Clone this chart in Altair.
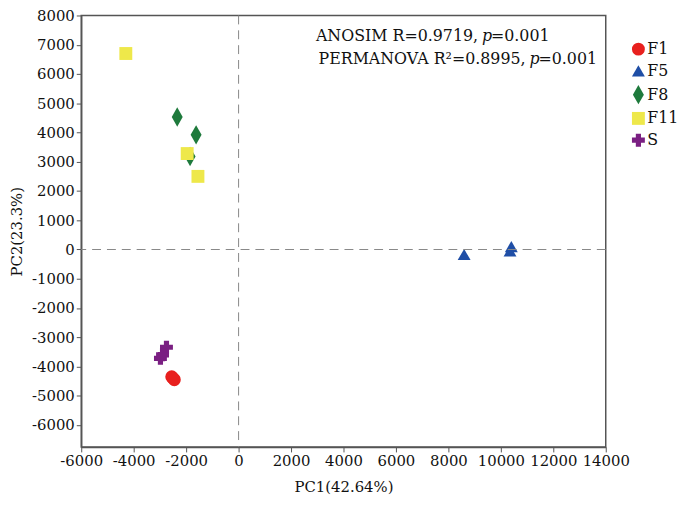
import altair as alt
import pandas as pd

groups = ["F1", "F1", "F1", "F5", "F5", "F5", "F8", "F8", "F8", "F11", "F11", "F11", "S", "S", "S"]
pc1 = [-2550, -2450, -2500, 8600, 10400, 10350, -2340, -1620, -1850, -4300, -1960, -1550, -2750, -2980, -2900]
pc2 = [-4350, -4450, -4400, -170, 100, -50, 4530, 3920, 3180, 6700, 3280, 2500, -3340, -3720, -3600]

order = ["F1", "F5", "F8", "F11", "S"]
colors = ["#e8201e", "#1f4ea6", "#1e7a3c", "#eee84a", "#7a1f82"]
shapes = ["circle", "triangle-up", "M0,-1.5L0.85,0L0,1.5L-0.85,0Z", "square", "cross"]

x_ticks = list(range(-6000, 14001, 2000))
y_ticks = list(range(-6000, 8001, 1000))

df = pd.DataFrame({"group": groups, "pc1": pc1, "pc2": pc2})

FONT = "DejaVu Serif"
xscale = alt.Scale(domain=[-6000, 14000], nice=False, zero=False)
yscale = alt.Scale(domain=[-6750, 8000], nice=False, zero=False)

axis_common = dict(grid=False, domainColor="#555", domainWidth=1.5,
                   tickColor="#555", tickSize=5, labelFont=FONT, labelFontSize=15,
                   labelColor="#111", titleFont=FONT, titleFontSize=15, titleFontWeight="normal",
                   titleColor="#111", labelOverlap=False, labelFlush=False,
                   labelExpr="datum.value + ''", labelPadding=2)
xaxis = alt.Axis(values=x_ticks, titlePadding=11, **axis_common)
yaxis = alt.Axis(values=y_ticks, titlePadding=7, **axis_common)

points = alt.Chart(df).mark_point(filled=True, size=170, opacity=1).encode(
    x=alt.X("pc1:Q", scale=xscale, title="PC1(42.64%)", axis=xaxis),
    y=alt.Y("pc2:Q", scale=yscale, title="PC2(23.3%)", axis=yaxis),
    color=alt.Color("group:N", scale=alt.Scale(domain=order, range=colors),
                    legend=alt.Legend(title=None, orient="none", legendX=555, legendY=26,
                                      labelFont=FONT, labelFontSize=16, labelColor="#111",
                                      symbolSize=170, rowPadding=6, labelOffset=1,
                                      symbolStrokeWidth=0, symbolOpacity=1)),
    shape=alt.Shape("group:N", scale=alt.Scale(domain=order, range=shapes), legend=None)
)

zx = pd.DataFrame({"v": [0]})
vrule = alt.Chart(zx).mark_rule(color="#888", strokeDash=[9, 6], strokeWidth=1).encode(
    x=alt.X("v:Q", scale=xscale, title="PC1(42.64%)", axis=xaxis))
hrule = alt.Chart(zx).mark_rule(color="#888", strokeDash=[9, 6], strokeWidth=1).encode(
    y=alt.Y("v:Q", scale=yscale, title="PC2(23.3%)", axis=yaxis))

ann_rows = [
    ("ANOSIM R=0.9719,", 401, 21, "normal", "right"),
    ("p", 405, 21, "italic", "left"),
    ("=0.001", 414, 21, "normal", "left"),
    ("PERMANOVA R²=0.8995,", 449, 44, "normal", "right"),
    ("p", 453, 44, "italic", "left"),
    ("=0.001", 462, 44, "normal", "left"),
]
texts = []
for t, px, py, st, al in ann_rows:
    texts.append(alt.Chart(zx).mark_text(text=t, align=al, baseline="middle", font=FONT,
                                         fontSize=16, fontStyle=st, color="#111").encode(
        x=alt.value(px), y=alt.value(py)))

chart = alt.layer(points, vrule, hrule, *texts).properties(
    width=530, height=436,
    autosize=alt.AutoSizeParams(type="none"),
    padding={"left": 74, "top": 5, "right": 72, "bottom": 48},
).configure_view(stroke="#555", strokeWidth=1.5).configure_axis(labelOverlap=False)

chart.save("out.html", embed_options={"renderer": "svg", "actions": False})
